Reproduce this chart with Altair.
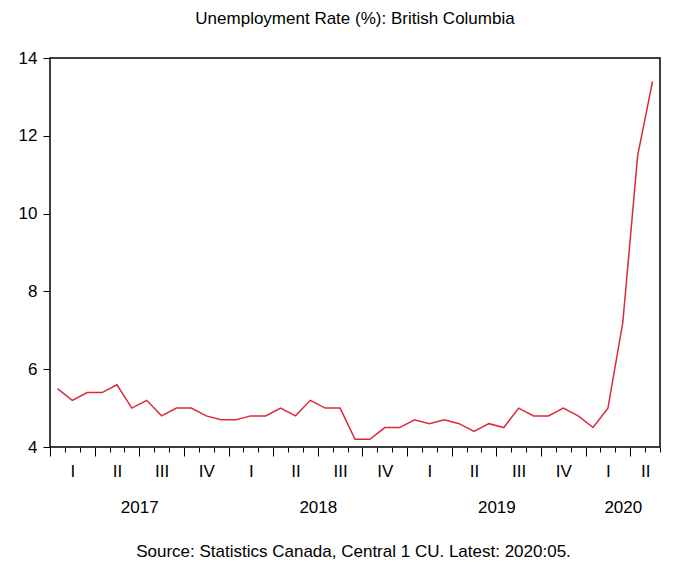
import altair as alt
import pandas as pd

months = [
    "2017:01", "2017:02", "2017:03", "2017:04", "2017:05", "2017:06",
    "2017:07", "2017:08", "2017:09", "2017:10", "2017:11", "2017:12",
    "2018:01", "2018:02", "2018:03", "2018:04", "2018:05", "2018:06",
    "2018:07", "2018:08", "2018:09", "2018:10", "2018:11", "2018:12",
    "2019:01", "2019:02", "2019:03", "2019:04", "2019:05", "2019:06",
    "2019:07", "2019:08", "2019:09", "2019:10", "2019:11", "2019:12",
    "2020:01", "2020:02", "2020:03", "2020:04", "2020:05",
]
rate = [
    5.5, 5.2, 5.4, 5.4, 5.6, 5.0, 5.2, 4.8, 5.0, 5.0, 4.8, 4.7,
    4.7, 4.8, 4.8, 5.0, 4.8, 5.2, 5.0, 5.0, 4.2, 4.2, 4.5, 4.5,
    4.7, 4.6, 4.7, 4.6, 4.4, 4.6, 4.5, 5.0, 4.8, 4.8, 5.0, 4.8,
    4.5, 5.0, 7.2, 11.5, 13.4,
]
y_ticks = [4, 6, 8, 10, 12, 14]
quarter_labels = ["I", "II", "III", "IV"]
year_labels = ["2017", "2018", "2019", "2020"]

TITLE = "Unemployment Rate (%): British Columbia"
FOOTER = "Source: Statistics Canada, Central 1 CU. Latest: 2020:05."
FONT = "Liberation Sans"

n = len(months)
df = pd.DataFrame({"month": months, "rate": rate, "t": [i + 0.5 for i in range(n)]})

month_ticks = list(range(n + 1))
quarter_centers = [(3 * k + min(3 * k + 3, n)) / 2 for k in range((n + 2) // 3)]
year_centers = [(12 * k + min(12 * k + 12, n)) / 2 for k in range(len(year_labels))]

q_expr = "[" + ",".join("'%s'" % q for q in quarter_labels) + "][floor(datum.value / 3) % 4]"
y_expr = "[" + ",".join("'%s'" % y for y in year_labels) + "][floor(datum.value / 12)]"

x_scale = alt.Scale(domain=[0, n], nice=False, zero=False)
y_scale = alt.Scale(domain=[4, 14], nice=False, zero=False)

y_axis = alt.Axis(
    values=y_ticks, title=None, domain=False, grid=False, tickSize=7,
    tickColor="black", labelPadding=6, labelFont=FONT, labelFontSize=17,
    labelColor="black",
)
y_enc = alt.Y("rate:Q", scale=y_scale, axis=y_axis)

line = alt.Chart(df).mark_line(color="#dc283c", strokeWidth=1.5).encode(
    x=alt.X("t:Q", scale=x_scale, axis=alt.Axis(
        values=month_ticks, labels=False, domain=False, grid=False, title=None,
        orient="bottom", tickColor="black", tickWidth=1,
        tickSize={"condition": {"test": "datum.value % 3 == 0", "value": 9}, "value": 5},
    )),
    y=y_enc,
)

qlayer = alt.Chart(df).mark_line(opacity=0).encode(
    x=alt.X("t:Q", scale=x_scale, axis=alt.Axis(
        values=quarter_centers, orient="bottom", ticks=False, tickSize=0,
        domain=False, grid=False, title=None, labelExpr=q_expr, labelFont=FONT,
        labelFontSize=17, labelColor="black", labelBaseline="alphabetic",
        labelPadding=29, labelFlush=False, labelOverlap=False,
    )),
    y=y_enc,
)

ylayer = alt.Chart(df).mark_line(opacity=0).encode(
    x=alt.X("t:Q", scale=x_scale, axis=alt.Axis(
        values=year_centers, orient="bottom", ticks=False, tickSize=0,
        domain=False, grid=False, labelExpr=y_expr, labelFont=FONT,
        labelFontSize=17, labelColor="black", labelBaseline="alphabetic",
        labelPadding=65, labelFlush=False, labelOverlap=False,
        title=FOOTER, titleFont=FONT, titleFontSize=17, titleFontWeight="normal",
        titleColor="black", titleBaseline="alphabetic", titleAlign="center",
        titleX=303, titleY=109,
    )),
    y=y_enc,
)

chart = alt.layer(line, qlayer, ylayer).resolve_axis(x="independent").properties(
    width=610,
    height=389,
    background="white",
    title=alt.TitleParams(
        text=TITLE, font=FONT, fontSize=17, fontWeight="normal", color="black",
        anchor="middle", frame="group", baseline="alphabetic", offset=8,
    ),
    autosize=alt.AutoSizeParams(type="none"),
    padding={"left": 42, "top": 50, "right": 23, "bottom": 122},
).configure_view(stroke="black", strokeWidth=1.5)

chart.save("out.html", embed_options={"renderer": "svg", "actions": False})
